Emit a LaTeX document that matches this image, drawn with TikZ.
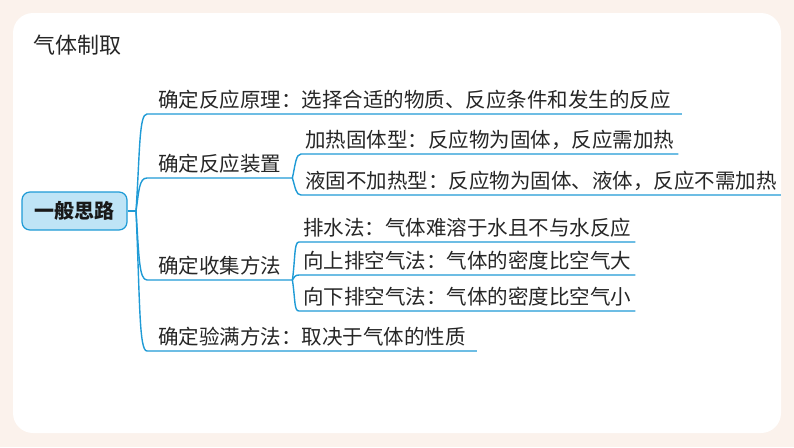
\documentclass[tikz,border=0pt]{standalone}
\usepackage{fontspec}
\newfontfamily\cjk{Noto Sans CJK SC}
\definecolor{linkblue}{HTML}{1F9BD6}
\definecolor{rootfill}{HTML}{BFE4F6}
\definecolor{pagebg}{HTML}{FBF2EC}
\definecolor{inktext}{HTML}{262626}
\begin{document}
\begin{tikzpicture}[x=1pt,y=-1pt,
    root/.style={draw=linkblue,fill=rootfill,rectangle,rounded corners=2.8mm,line width=1.2pt,minimum width=105pt,minimum height=38pt,inner sep=0pt,font=\cjk\bfseries\fontsize{20}{24}\selectfont,text=black!90},
    lvone/.style={anchor=south west,inner xsep=11pt,inner ysep=4.5pt,font=\cjk\fontsize{20.5}{24}\selectfont,text=inktext},
    lvtwo/.style={lvone,inner xsep=4pt},
    branch/.style={draw=linkblue,line width=1.4pt}
  ]
  \fill[pagebg] (0,0) rectangle (794,447);
  \fill[white,rounded corners=20pt] (13,13) rectangle (781,433);
  \node[anchor=west,inner sep=0pt,font=\cjk\fontsize{22}{26}\selectfont,text=inktext] (title) at (33,45) {气体制取};
  \node[root] (root) at (74.5,211) {一般思路};
  \coordinate (trunk) at (136,211);
  % first level
  \node[lvone] (yuanli) at (147,114) {确定反应原理：选择合适的物质、反应条件和发生的反应};
  \node[lvone] (zhuangzhi) at (147,178) {确定反应装置};
  \node[lvone] (shouji) at (147,280) {确定收集方法};
  \node[lvone] (yanman) at (147,351) {确定验满方法：取决于气体的性质};
  % second level
  \node[lvtwo] (jiare) at (301,154) {加热固体型：反应物为固体，反应需加热};
  \node[lvtwo] (yegu) at (301,195) {液固不加热型：反应物为固体、液体，反应不需加热};
  \node[lvtwo] (paishui) at (299,242) {排水法：气体难溶于水且不与水反应};
  \node[lvtwo] (xiangshang) at (299,275) {向上排空气法：气体的密度比空气大};
  \node[lvtwo] (xiangxia) at (299,311) {向下排空气法：气体的密度比空气小};
  % connectors
  \draw[branch] (root.east) -- (trunk);
  \draw[branch] (trunk) .. controls +(4,-60) and +(-8,0) .. (yuanli.south west) -- (yuanli.south east);
  \draw[branch] (trunk) .. controls +(3,-20) and +(-8,0) .. (zhuangzhi.south west) -- (zhuangzhi.south east);
  \draw[branch] (trunk) .. controls +(3,45) and +(-8,0) .. (shouji.south west) -- (shouji.south east);
  \draw[branch] (trunk) .. controls +(4,90) and +(-8,0) .. (yanman.south west) -- (yanman.south east);
  \draw[branch] (zhuangzhi.south east) .. controls +(3,-14) and +(-5,0) .. (jiare.south west) -- (jiare.south east);
  \draw[branch] (zhuangzhi.south east) .. controls +(3,10) and +(-5,0) .. (yegu.south west) -- (yegu.south east);
  \draw[branch] (shouji.south east) .. controls +(3,-22) and +(-5,0) .. (paishui.south west) -- (paishui.south east);
  \draw[branch] (shouji.south east) .. controls +(2,-3) and +(-4,0) .. (xiangshang.south west) -- (xiangshang.south east);
  \draw[branch] (shouji.south east) .. controls +(3,20) and +(-5,0) .. (xiangxia.south west) -- (xiangxia.south east);
\end{tikzpicture}
\end{document}
